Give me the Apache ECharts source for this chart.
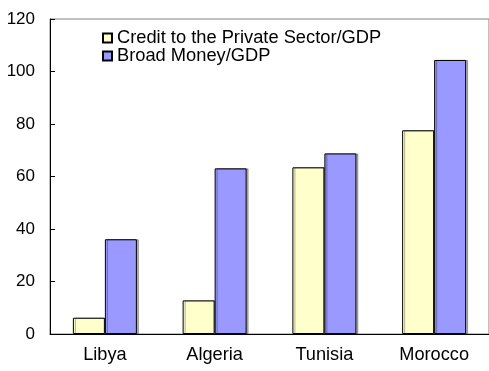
<!DOCTYPE html>
<html>
<head>
<meta charset="utf-8">
<script src="https://cdn.jsdelivr.net/npm/echarts@6/dist/echarts.min.js"></script>
<style>
  html, body { margin: 0; padding: 0; background: #fff; }
  #main { width: 489px; height: 371px; }
</style>
</head>
<body>
<div id="main"></div>
<script>
// data
const countries = ['Libya', 'Algeria', 'Tunisia', 'Morocco'];
const creditGDP = [6.2, 12.8, 63.5, 77.6];
const broadMoneyGDP = [36.1, 63.1, 68.8, 104.4];
const seriesNames = ['Credit to the Private Sector/GDP', 'Broad Money/GDP'];

const chart = echarts.init(document.getElementById('main'));
const font = 'Liberation Sans, Arial, sans-serif';

const option = {
    animation: false,
    grid: {
        left: 50,
        right: -3,
        top: 19,
        bottom: 37,
        show: true,
        borderColor: '#808080',
        borderWidth: 1
    },
    legend: {
        orient: 'vertical',
        left: 97,
        top: 24,
        icon: 'rect',
        itemWidth: 9,
        itemHeight: 9,
        itemGap: 0,
        itemStyle: { shadowColor: 'transparent', shadowOffsetX: 0 },
        textStyle: { fontFamily: font, fontSize: 18.3, lineHeight: 18, color: '#000' },
        data: seriesNames
    },
    xAxis: {
        type: 'category',
        data: countries,
        axisLine: { lineStyle: { color: '#000', width: 1 } },
        axisTick: { inside: true, length: 4, lineStyle: { color: '#000' } },
        axisLabel: { fontFamily: font, fontSize: 18.2, color: '#000', margin: 12 }
    },
    yAxis: {
        type: 'value',
        min: 0,
        max: 120,
        interval: 20,
        axisLine: { show: true, lineStyle: { color: '#000', width: 1 } },
        axisTick: { show: true, inside: true, length: 5, lineStyle: { color: '#000' } },
        axisLabel: { fontFamily: font, fontSize: 17, color: '#000', margin: 15 },
        splitLine: { show: false }
    },
    series: [
        {
            name: seriesNames[0],
            type: 'bar',
            data: creditGDP,
            barWidth: 32,
            barGap: '0%',
            itemStyle: {
                color: '#FFFFCC',
                borderColor: '#000',
                borderWidth: 1,
                shadowColor: 'rgba(0,0,0,0.3)',
                shadowOffsetX: 2
            }
        },
        {
            name: seriesNames[1],
            type: 'bar',
            data: broadMoneyGDP,
            barWidth: 32,
            barGap: '0%',
            itemStyle: {
                color: '#9999FF',
                borderColor: '#000',
                borderWidth: 1,
                shadowColor: 'rgba(0,0,0,0.3)',
                shadowOffsetX: 2
            }
        }
    ]
};

chart.setOption(option);
</script>
</body>
</html>
